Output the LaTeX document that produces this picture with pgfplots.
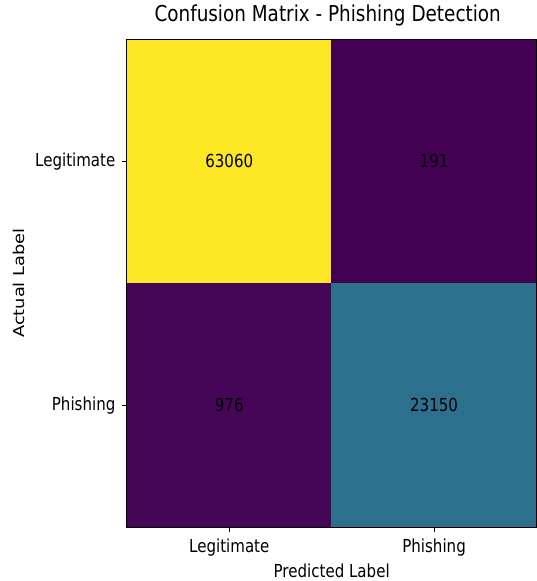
\documentclass[border=0pt]{standalone}
\usepackage{fontspec}
\setmainfont[FakeStretch=0.84]{DejaVu Sans}
\newfontfamily\ylabfont[FakeStretch=1.19]{DejaVu Sans}
\usepackage{pgfplots}
\pgfplotsset{compat=1.18}
\usepackage{pgfplotstable}

% confusion matrix: column x = predicted, row y = actual
\pgfplotstableread{
x y v
0 0 63060
1 0 191
0 1 976
1 1 23150
}\cmdata

\begin{document}
\begin{tikzpicture}
\begin{axis}[
  at={(127bp,53bp)}, anchor=south west,
  scale only axis, width=410bp, height=489bp,
  xmin=-0.5, xmax=1.5, ymin=-0.5, ymax=1.5, y dir=reverse,
  xtick={0,1}, ytick={0,1},
  xtick pos=bottom, ytick pos=left,
  xticklabels={Legitimate,Phishing},
  yticklabels={Legitimate,Phishing},
  tick align=outside, major tick length=5bp,
  tick style={black, line width=0.8bp},
  axis line style={black, line width=0.8bp},
  axis on top,
  colormap/viridis, point meta min=191, point meta max=63060,
  ticklabel style={font=\fontsize{18}{18}\selectfont},
  xticklabel style={yshift=-3bp},
  yticklabel style={xshift=-3bp},
  title={Confusion Matrix - Phishing Detection},
  title style={font=\fontsize{22}{22}\selectfont, at={(axis description cs:0.5,1)}, anchor=base, xshift=-4bp, yshift=11bp},
  xlabel={Predicted Label},
  xlabel style={font=\fontsize{18}{18}\selectfont, at={(axis description cs:0.5,0)}, anchor=base, yshift=-50bp},
  ylabel={Actual Label},
  ylabel style={font=\ylabfont\fontsize{15}{15}\selectfont, at={(axis description cs:0,0.5)}, rotate=0, anchor=base, yshift=102bp},
]
\addplot[matrix plot*, mesh/cols=2, mesh/ordering=x varies, point meta=explicit]
  table[x=x, y=y, meta=v] {\cmdata};
\addplot[draw=none, mark=none, point meta=explicit,
  nodes near coords={\pgfmathprintnumber[fixed, precision=0, 1000 sep={}, assume math mode=true]{\pgfplotspointmeta}},
  nodes near coords style={anchor=center, text=black, font=\fontsize{18}{18}\selectfont}]
  table[x=x, y=y, meta=v] {\cmdata};
\end{axis}
\path[use as bounding box] (0,0) rectangle (537bp,581bp);
\end{tikzpicture}
\end{document}
